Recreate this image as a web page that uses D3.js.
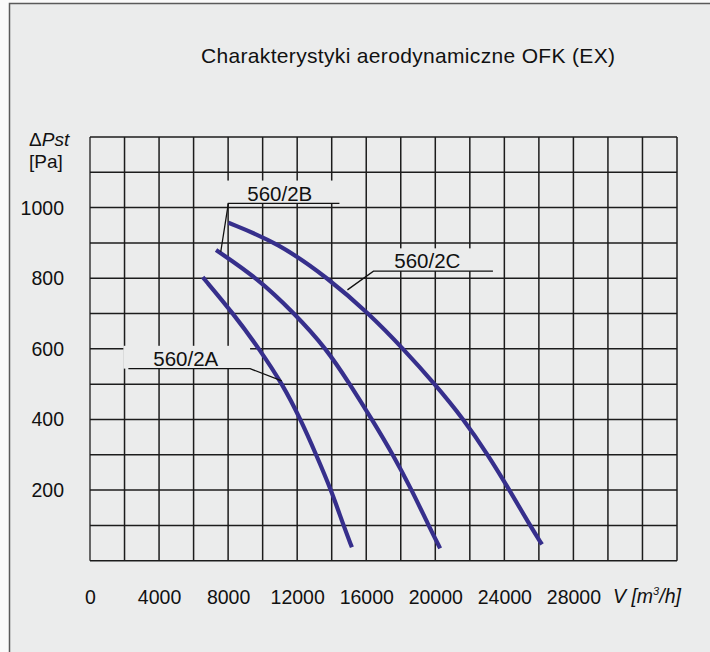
<!DOCTYPE html>
<html><head><meta charset="utf-8">
<script src="https://cdn.jsdelivr.net/npm/d3@7"></script>
<style>
html,body{margin:0;padding:0;background:#fafafa;}
svg{display:block;font-family:"Liberation Sans",Arial,sans-serif;}
</style></head>
<body>
<svg id="chart" width="710" height="652"></svg>
<script>
// ---- data ----
const title = "Charakterystyki aerodynamiczne OFK (EX)";
const xTicks = [0, 4000, 8000, 12000, 16000, 20000, 24000, 28000];
const yTicks = [200, 400, 600, 800, 1000];
const seriesNames = ["560/2A", "560/2B", "560/2C"];
const flowA = [6530, 8300, 9800, 11150, 12200, 13100, 13970, 14680, 15170];
const presA = [803, 700, 600, 500, 400, 300, 200, 100, 38];
const flowB = [7300, 9700, 11850, 13700, 15050, 16330, 17550, 18640, 19610, 20280];
const presB = [880, 800, 700, 600, 500, 400, 300, 200, 100, 35];
const flowC = [8020, 10900, 13800, 16150, 18150, 19980, 21650, 23050, 24300, 25480, 26180];
const presC = [957, 900, 800, 700, 600, 500, 400, 300, 200, 100, 46];
// label anchors in data units: [textV, textP, underline start V, underline end V, underline P, leader end V, leader end P]
const labelA = [5545, 552, 2222, 9272, 544, 11110, 509];
const labelB = [10993, 1020, 8014, 14447, 1012, 7574, 875];
const labelC = [19540, 828, 16418, 23338, 820, 14911, 767];

// ---- layout ----
const svg = d3.select("#chart");
const L = 90, R = 677, T = 137, B = 560.7;
const x = d3.scaleLinear().domain([0, 34000]).range([L, R]);
const y = d3.scaleLinear().domain([0, 1200]).range([B, T]);
const panel = "#ebecec";

svg.append("rect").attr("x", 9.5).attr("y", 3.5).attr("width", 720).attr("height", 660)
  .attr("fill", panel).attr("stroke", "#5a5a5a").attr("stroke-width", 1.5);

svg.append("text").attr("x", 408).attr("y", 63).attr("text-anchor", "middle")
  .attr("font-size", 21).attr("textLength", 414).attr("fill", "#111").text(title);

// grid
const g = svg.append("g");
const xGrid = d3.range(0, 34001, 2000);
const yGrid = d3.range(0, 1201, 100);
g.selectAll("line.v").data(xGrid).join("line")
  .attr("x1", d => x(d)).attr("x2", d => x(d)).attr("y1", T).attr("y2", B)
  .attr("stroke", d => d === 0 ? "#666" : "#1c1c1c").attr("stroke-width", d => d === 0 ? 2 : 1.5);
g.selectAll("line.h").data(yGrid).join("line")
  .attr("y1", d => y(d)).attr("y2", d => y(d)).attr("x1", L).attr("x2", R)
  .attr("stroke", "#1c1c1c").attr("stroke-width", 1.5);

// axis labels via d3 axes (tick text only)
const yAxis = svg.append("g").attr("transform", `translate(${L},0)`)
  .call(d3.axisLeft(y).tickValues(yTicks).tickSize(0).tickPadding(26).tickFormat(d3.format("d")));
yAxis.select(".domain").remove();
yAxis.selectAll("text").attr("font-size", 19.5).attr("font-family", "Liberation Sans, Arial, sans-serif")
  .attr("fill", "#111").attr("dy", "0.33em");

const xAxis = svg.append("g").attr("transform", `translate(0,${B})`)
  .call(d3.axisBottom(x).tickValues(xTicks).tickSize(0).tickPadding(29).tickFormat(d3.format("d")));
xAxis.select(".domain").remove();
xAxis.selectAll("text").attr("font-size", 19.5).attr("font-family", "Liberation Sans, Arial, sans-serif")
  .attr("fill", "#111");

// axis titles
const yt = svg.append("text").attr("x", 29).attr("y", 146).attr("font-size", 19).attr("fill", "#111");
yt.append("tspan").text("Δ");
yt.append("tspan").attr("font-style", "italic").text("Pst");
svg.append("text").attr("x", 29).attr("y", 168).attr("font-size", 19).attr("fill", "#111").text("[Pa]");
const xt = svg.append("text").attr("x", 613).attr("y", 603).attr("font-size", 19.5)
  .attr("font-style", "italic").attr("fill", "#111");
xt.append("tspan").text("V [m");
xt.append("tspan").attr("font-size", 11).attr("dy", -8).text("3");
xt.append("tspan").attr("dy", 8).text("/h]");

// curves
const line = d3.line().x(d => x(d[0])).y(d => y(d[1])).curve(d3.curveBasis);
const curves = [d3.zip(flowA, presA), d3.zip(flowB, presB), d3.zip(flowC, presC)];

// labels (mask + text + leader)
const labels = [labelA, labelB, labelC];
labels.forEach((lb, i) => {
  svg.append("rect").attr("x", x(lb[2]) - 5).attr("y", y(lb[1]) - 20)
    .attr("width", x(lb[3]) - x(lb[2]) + 5).attr("height", y(lb[4]) - y(lb[1]) + 20)
    .attr("fill", panel);
});
svg.append("g").selectAll("path").data(curves).join("path")
  .attr("d", line).attr("fill", "none").attr("stroke", "#362f8c").attr("stroke-width", 4.2);
labels.forEach((lb, i) => {
  const pts = i === 0
    ? [[x(lb[2]), y(lb[4])], [x(lb[3]), y(lb[4])], [x(lb[5]), y(lb[6])]]
    : [[x(lb[3]), y(lb[4])], [x(lb[2]), y(lb[4])], [x(lb[5]), y(lb[6])]];
  svg.append("polyline").attr("points", pts.map(p => p.join(",")).join(" "))
    .attr("fill", "none").attr("stroke", "#111").attr("stroke-width", 1.3);
  svg.append("text").attr("x", x(lb[0])).attr("y", y(lb[1])).attr("text-anchor", "middle")
    .attr("font-size", 20.5).attr("fill", "#111").text(seriesNames[i]);
});
</script>
</body></html>
